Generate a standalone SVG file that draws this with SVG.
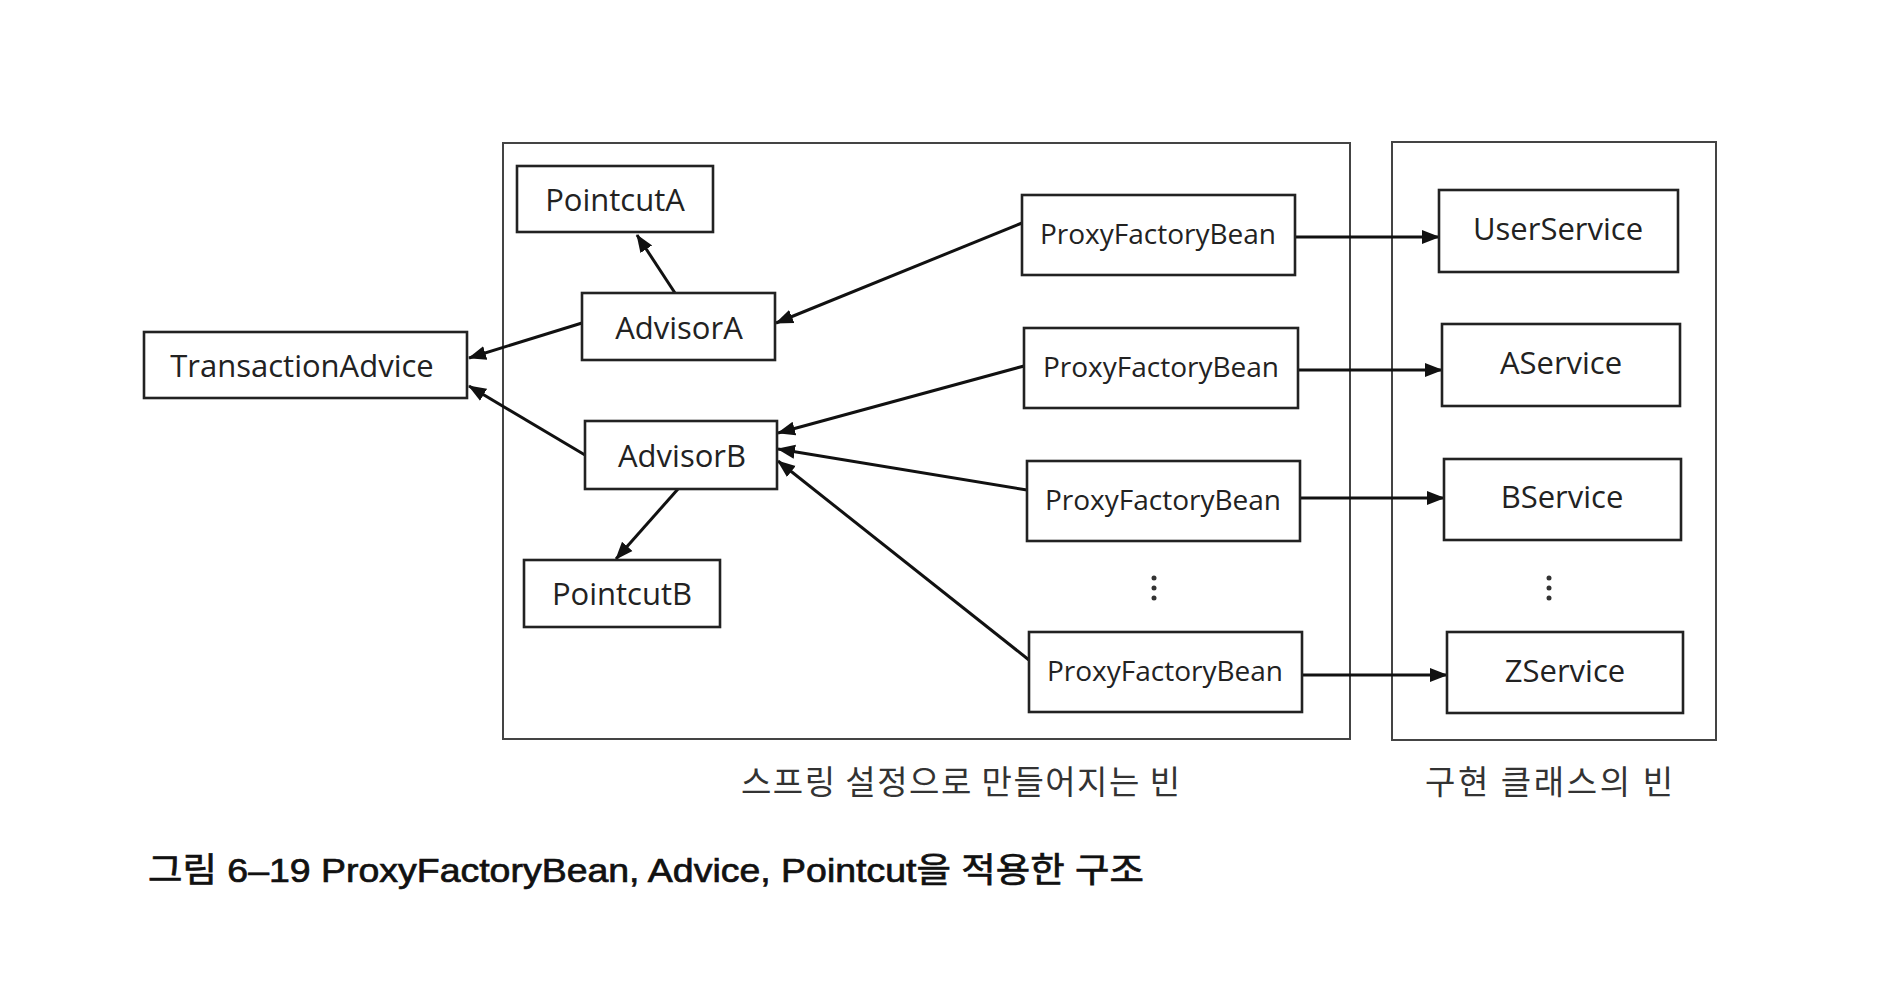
<svg xmlns="http://www.w3.org/2000/svg" width="1898" height="999" viewBox="0 0 1898 999">
<style>
.box{fill:#fff;stroke:#222;stroke-width:2.6}
.cont{fill:none;stroke:#444;stroke-width:2}
.lbl{font-family:"Open Sans","Noto Sans",sans-serif;font-size:31px;fill:#222;text-anchor:middle;dominant-baseline:central}
.pfb{font-size:28px}
.edge{stroke:#111;stroke-width:3;fill:none;marker-end:url(#arr)}
.kr{font-family:"Noto Sans CJK KR",sans-serif;font-size:33px;fill:#333}
.cap{font-family:"Liberation Sans","Noto Sans CJK KR",sans-serif;font-size:34px;fill:#111;stroke:#111;stroke-width:0.7}
.dots{fill:#333}
</style>
<defs>
<marker id="arr" markerUnits="userSpaceOnUse" markerWidth="18" markerHeight="16" refX="17" refY="8" orient="auto" viewBox="0 0 18 16">
<path d="M0,1 L18,8 L0,15 z" fill="#111"/>
</marker>
</defs>
<rect width="1898" height="999" fill="#fff"/>
<g id="containers">
<rect class="cont" x="503" y="143" width="847" height="596"/>
<rect class="cont" x="1392" y="142" width="324" height="598"/>
</g>
<g id="connectors">
<line class="edge" x1="675" y1="293" x2="637" y2="235"/>
<line class="edge" x1="582" y1="323" x2="469" y2="358"/>
<line class="edge" x1="585" y1="455" x2="469" y2="386"/>
<line class="edge" x1="678" y1="489" x2="616" y2="559"/>
<line class="edge" x1="1022" y1="223" x2="776" y2="323"/>
<line class="edge" x1="1024" y1="366" x2="778" y2="433"/>
<line class="edge" x1="1027" y1="490" x2="778" y2="449"/>
<line class="edge" x1="1029" y1="660" x2="778" y2="461"/>
<line class="edge" x1="1295" y1="237" x2="1439" y2="237"/>
<line class="edge" x1="1298" y1="370" x2="1442" y2="370"/>
<line class="edge" x1="1300" y1="498" x2="1444" y2="498"/>
<line class="edge" x1="1302" y1="675" x2="1447" y2="675"/>
</g>
<g id="TransactionAdvice"><rect class="box" x="144" y="332" width="323" height="66"/><text class="lbl" x="302" y="365">TransactionAdvice</text></g>
<g id="PointcutA"><rect class="box" x="517" y="166" width="196" height="66"/><text class="lbl" x="615" y="199">PointcutA</text></g>
<g id="AdvisorA"><rect class="box" x="582" y="293" width="193" height="67"/><text class="lbl" x="679" y="327">AdvisorA</text></g>
<g id="AdvisorB"><rect class="box" x="585" y="421" width="192" height="68"/><text class="lbl" x="682" y="455">AdvisorB</text></g>
<g id="PointcutB"><rect class="box" x="524" y="560" width="196" height="67"/><text class="lbl" x="622" y="593">PointcutB</text></g>
<g id="ProxyFactoryBean1"><rect class="box" x="1022" y="195" width="273" height="80"/><text class="lbl pfb" x="1158" y="233">ProxyFactoryBean</text></g>
<g id="ProxyFactoryBean2"><rect class="box" x="1024" y="328" width="274" height="80"/><text class="lbl pfb" x="1161" y="366">ProxyFactoryBean</text></g>
<g id="ProxyFactoryBean3"><rect class="box" x="1027" y="461" width="273" height="80"/><text class="lbl pfb" x="1163" y="499">ProxyFactoryBean</text></g>
<g id="ProxyFactoryBean4"><rect class="box" x="1029" y="632" width="273" height="80"/><text class="lbl pfb" x="1165" y="670">ProxyFactoryBean</text></g>
<g id="UserService"><rect class="box" x="1439" y="190" width="239" height="82"/><text class="lbl" x="1558" y="228">UserService</text></g>
<g id="AService"><rect class="box" x="1442" y="324" width="238" height="82"/><text class="lbl" x="1561" y="362">AService</text></g>
<g id="BService"><rect class="box" x="1444" y="459" width="237" height="81"/><text class="lbl" x="1562" y="496">BService</text></g>
<g id="ZService"><rect class="box" x="1447" y="632" width="236" height="81"/><text class="lbl" x="1565" y="670">ZService</text></g>
<g id="ellipsis">
<circle class="dots" cx="1154" cy="578" r="2.5"/><circle class="dots" cx="1154" cy="588" r="2.5"/><circle class="dots" cx="1154" cy="598" r="2.5"/>
<circle class="dots" cx="1549" cy="578" r="2.5"/><circle class="dots" cx="1549" cy="588" r="2.5"/><circle class="dots" cx="1549" cy="598" r="2.5"/>
</g>
<g id="labels">
<text class="kr" x="741" y="794" textLength="439" lengthAdjust="spacing">스프링 설정으로 만들어지는 빈</text>
<text class="kr" x="1425" y="794" textLength="248" lengthAdjust="spacing">구현 클래스의 빈</text>
<text class="cap" x="148" y="882" textLength="996" lengthAdjust="spacingAndGlyphs">그림 6–19 ProxyFactoryBean, Advice, Pointcut을 적용한 구조</text>
</g>
</svg>
